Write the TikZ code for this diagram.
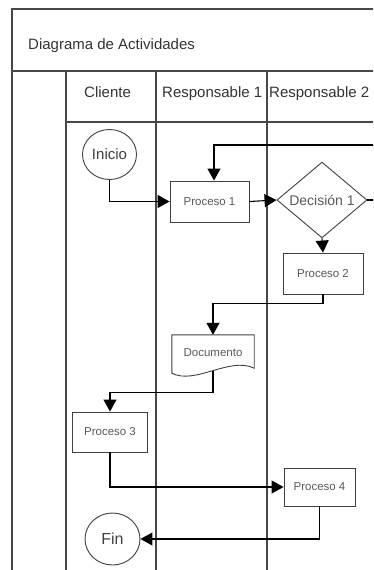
\documentclass[tikz,border=0pt]{standalone}
\usepackage{fontspec}
\setmainfont{Liberation Sans}
\usetikzlibrary{arrows.meta,shapes.geometric,calc}
\begin{document}
\begin{tikzpicture}[x=1pt,y=-1pt,
  frame/.style={draw=black!72, line width=1.3pt},
  box/.style={draw=black!75, line width=0.9pt, rectangle, inner sep=0pt,
    font=\fontsize{11.5}{13}\selectfont, text=black!65},
  term/.style={draw=black!75, line width=0.9pt, ellipse, inner sep=0pt, text=black!75},
  conn/.style={line width=1.1pt, black, -{Triangle[length=12pt,width=13pt]}},
  lane/.style={font=\fontsize{15}{17}\selectfont, text=black!80, anchor=base west, inner sep=0pt}
]
\useasboundingbox (0,0) rectangle (373,570);
\clip (0,0) rectangle (373,570);
\fill[white] (0,0) rectangle (373,570);
% frame
\draw[frame] (12,580) -- (12,9) -- (390,9);
\draw[frame] (12,71) -- (390,71);
\draw[frame] (66,122) -- (390,122);
\draw[frame] (66,71) -- (66,580);
\draw[frame] (156,71) -- (156,580);
\draw[frame] (267,71) -- (267,580);
% texts
\node[lane] (title) at (28,49) {Diagrama de Actividades};
\node[lane] (h1) at (84,97) {Cliente};
\node[lane] (h2) at (162,97) {Responsable 1};
\node[lane] (h3) at (269,97) {Responsable 2};
% nodes
\node[term, minimum width=54pt, minimum height=50pt, font=\fontsize{15}{17}\selectfont] (ini) at (109.5,154.5) {Inicio};
\node[box, minimum width=79pt, minimum height=41pt] (p1) at (209.5,201.5) {Proceso 1};
\node[diamond, draw=black!75, line width=0.9pt, inner sep=0pt, minimum width=90pt, minimum height=58pt,
  font=\fontsize{14}{16}\selectfont, text=black!65] (dec) at (322,200) {Decisión 1};
\node[box, minimum width=80pt, minimum height=41pt] (p2) at (323,273.5) {Proceso 2};
\node[rectangle, inner sep=0pt, minimum width=82pt, minimum height=36pt,
  font=\fontsize{11.5}{13}\selectfont, text=black!65] (doc) at (213,353) {Documento};
\draw[draw=black!75, line width=0.9pt]
  (doc.north west) -- (doc.north east) -- ($(doc.south east)+(0,-3)$)
  .. controls ($(doc.south)+(17,-15)$) and ($(doc.south)+(-18,14)$) .. ($(doc.south west)+(0,2)$)
  -- cycle;
\node[box, minimum width=75pt, minimum height=40pt] (p3) at (110,432) {Proceso 3};
\node[box, minimum width=71pt, minimum height=38pt] (p4) at (319.5,487) {Proceso 4};
\node[term, minimum width=55pt, minimum height=52pt, font=\fontsize{16}{18}\selectfont] (fin) at (112.5,539) {Fin};
% connectors
\coordinate (loopr) at (390,145);
\coordinate (loopl) at (214,145);
\draw[conn] (ini.south) |- (p1.west);
\draw[conn] (p1.east) -- (dec.west);
\draw[conn] (dec.east) -| (loopr) -- (loopl) -- (loopl |- p1.north);
\draw[conn] (dec.south) -- (p2.north);
\draw[conn] (p2.south) -- ++(0,9) -| (doc.north);
\draw[conn] (doc.south) -- ++(0,21) -| (p3.north);
\draw[conn] (p3.south) |- (p4.west);
\draw[conn] (p4.south) |- (fin.east);
\end{tikzpicture}
\end{document}
